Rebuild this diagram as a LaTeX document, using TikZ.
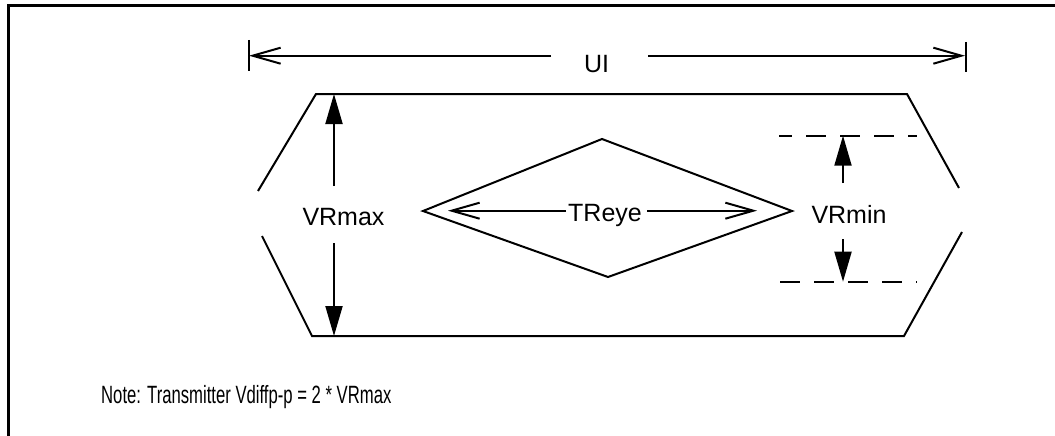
\documentclass[tikz,border=0pt]{standalone}
\usepackage{fontspec}
\usepackage{graphicx}
\setmainfont{Liberation Sans}
\usetikzlibrary{arrows.meta}
\begin{document}
\begin{tikzpicture}[x=1pt,y=-1pt,
  ln/.style={line width=2pt, line join=miter},
  lbl/.style={inner sep=0pt, anchor=base, font=\fontsize{25}{29}\selectfont},
  openarr/.style={ln,-{Straight Barb[length=28pt,width=16pt]}},
  fillarr/.style={ln,-{Triangle[length=30pt,width=17pt]}},
  dashln/.style={line width=2pt, dash pattern=on 20pt off 14pt}
]
\useasboundingbox (0,0) rectangle (1055,436);
% frame
\draw[line width=3pt, line join=miter] (8,440) -- (8,5.5) -- (1060,5.5);

% labels
\node[lbl] (ui) at (596.5,73) {UI};
\node[lbl] (vrmax) at (343.5,225) {VRmax};
\node[lbl] (treye) at (605,221.5) {TReye};
\node[lbl] (vrmin) at (849,223) {VRmin};
\node[inner sep=0pt, anchor=base west, font=\fontsize{25}{29}\selectfont] (note) at (101,403)
  {\scalebox{0.667}[1]{Note: Transmitter Vdiffp-p = 2 * VRmax}};

% UI dimension
\coordinate (uiLtop) at (249,40);
\coordinate (uiLbot) at (249,71);
\coordinate (uiRtop) at (966,42);
\coordinate (uiRbot) at (966,72);
\coordinate (uiLtip) at (249,55.7);
\coordinate (uiRtip) at (965,55.7);
\coordinate (uiLs) at (551,55.7);
\coordinate (uiRs) at (648,55.7);
\draw[ln] (uiLtop) -- (uiLbot);
\draw[ln] (uiRtop) -- (uiRbot);
\draw[openarr] (uiLs) -- (uiLtip);
\draw[openarr] (uiRs) -- (uiRtip);

% eye hexagon
\coordinate (h1) at (258,191);
\coordinate (h2) at (316,94);
\coordinate (h3) at (907,94);
\coordinate (h4) at (959,188);
\coordinate (g1) at (262,236);
\coordinate (g2) at (312,336);
\coordinate (g3) at (904,336);
\coordinate (g4) at (962,232);
\draw[ln] (h1) -- (h2) -- (h3) -- (h4);
\draw[ln] (g1) -- (g2) -- (g3) -- (g4);

% VRmax arrows
\coordinate (vmaxT) at (334,94);
\coordinate (vmaxB) at (334,336);
\coordinate (vmaxTs) at (334,186);
\coordinate (vmaxBs) at (334,243);
\draw[fillarr] (vmaxTs) -- (vmaxT);
\draw[fillarr] (vmaxBs) -- (vmaxB);

% diamond
\coordinate (dL) at (423,211);
\coordinate (dT) at (602,139);
\coordinate (dR) at (792,211);
\coordinate (dB) at (608,277);
\draw[ln] (dL) -- (dT) -- (dR) -- (dB) -- cycle;

% TReye arrows
\coordinate (trL) at (448,210.7);
\coordinate (trR) at (757,210.7);
\coordinate (trLs) at (566,210.7);
\coordinate (trRs) at (647,210.7);
\draw[openarr] (trLs) -- (trL);
\draw[openarr] (trRs) -- (trR);

% VRmin
\coordinate (dsT1) at (779,135.7);
\coordinate (dsT2) at (917,135.7);
\coordinate (dsB1) at (780,281.7);
\coordinate (dsB2) at (917,281.7);
\draw[dashln, dash phase=7pt] (dsT1) -- (dsT2);
\draw[dashln] (dsB1) -- (dsB2);
\coordinate (vminT) at (843,135.7);
\coordinate (vminB) at (843,281.7);
\coordinate (vminTs) at (843,183);
\coordinate (vminBs) at (843,239);
\draw[fillarr] (vminTs) -- (vminT);
\draw[fillarr] (vminBs) -- (vminB);
\end{tikzpicture}
\end{document}
